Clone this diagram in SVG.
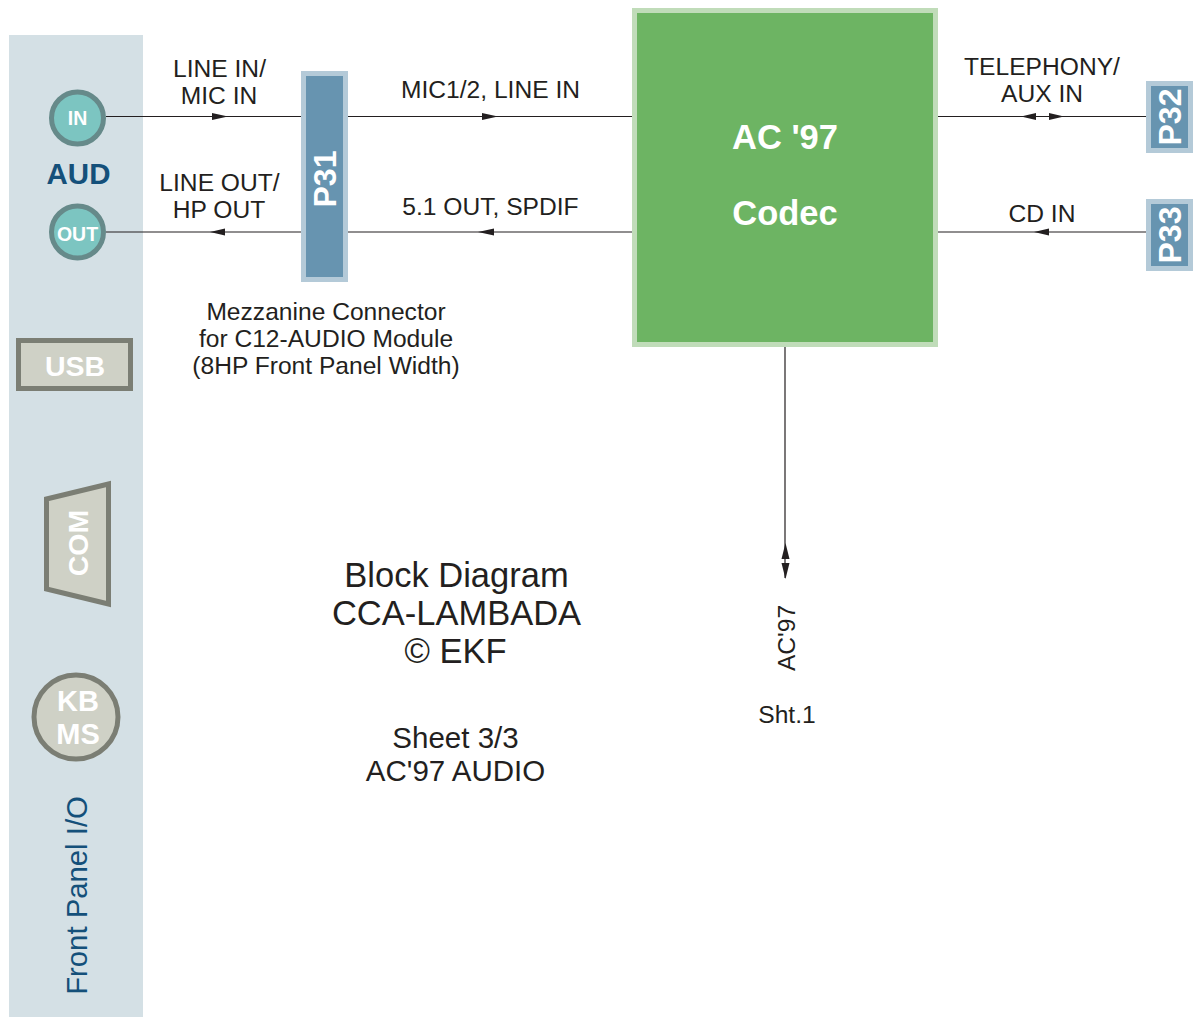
<svg xmlns="http://www.w3.org/2000/svg" width="1197" height="1022" viewBox="0 0 1197 1022">
<style>
text{font-family:"Liberation Sans",Arial,sans-serif;text-anchor:middle}
.l{font-size:24.600px;fill:#231f20}
.t{font-size:34.500px;fill:#231f20}
.s{font-size:29.500px;fill:#231f20}
.w{font-weight:bold;fill:#fff}
.p{fill:#6794b0;stroke:#b4cad8;stroke-width:5}
.j{fill:#7cc5c1;stroke:#668a8a;stroke-width:5}
.g{fill:#cfd1c6;stroke:#7b7e74;stroke-width:5}
.c{stroke:#231f20;stroke-width:1.200;fill:none}
.a{fill:#231f20}
</style>
<rect x="9" y="35" width="134" height="982" fill="#d4e0e5"/>
<g id="connectors">
<path class="c" d="M106 116.500H303M346 116.500H634M937 116.500H1147M106 232H303M346 232H634M937 232H1147M785 345V578"/>
<path class="a" d="M228 116.500l-16-3.500v7zM498 116.500l-16-3.500v7zM1021 116.500l15-3.500v7zM1064 116.500l-15-3.500v7zM210 232l15-3.500v7zM478 232l16-3.500v7zM1034 232l15-3.500v7zM785.500 543l-4 16h8zM785.500 579l-4-16h8z"/>
</g>
<g id="in"><circle class="j" cx="77.500" cy="118" r="26"/><text class="w" x="77.500" y="125" font-size="19.500">IN</text></g>
<g id="out"><circle class="j" cx="77.500" cy="232" r="26"/><text class="w" x="77.500" y="241" font-size="19.500">OUT</text></g>
<text x="78.500" y="184" font-size="29.500" font-weight="bold" fill="#14507a">AUD</text>
<g id="usb"><rect class="g" x="18.500" y="340.500" width="112" height="48"/><text class="w" x="75" y="376" font-size="28.500">USB</text></g>
<g id="com"><path class="g" d="M46.500 499L108.500 484V604L46.500 589Z"/><text class="w" transform="translate(88 543) rotate(-90)" font-size="28.500">COM</text></g>
<g id="kbms"><circle class="g" cx="76" cy="717" r="42"/><text class="w" x="78" y="711" font-size="29">KB</text><text class="w" x="78" y="744" font-size="29">MS</text></g>
<text transform="translate(87 895.500) rotate(-90)" font-size="29.300" fill="#14507a">Front Panel I/O</text>
<g id="p31"><rect class="p" x="303.500" y="73.500" width="42" height="206"/><text class="w" transform="translate(335.500 179) rotate(-90)" font-size="32">P31</text></g>
<g id="codec"><rect x="634.500" y="10.500" width="301" height="334" fill="#6db463" stroke="#c0dcb9" stroke-width="5"/><text class="w" x="785" y="149" font-size="34.500">AC '97</text><text class="w" x="785" y="225" font-size="34.500">Codec</text></g>
<g id="p32"><rect class="p" x="1148.500" y="83.500" width="42" height="67"/><text class="w" transform="translate(1180.500 117) rotate(-90)" font-size="32">P32</text></g>
<g id="p33"><rect class="p" x="1148.500" y="201.500" width="42" height="67"/><text class="w" transform="translate(1180.500 235) rotate(-90)" font-size="32">P33</text></g>
<text class="l" x="219.500" y="76.500">LINE IN/</text><text class="l" x="219" y="104">MIC IN</text>
<text class="l" x="219.500" y="191">LINE OUT/</text><text class="l" x="219" y="218">HP OUT</text>
<text class="l" x="490.500" y="98">MIC1/2, LINE IN</text><text class="l" x="490.500" y="215">5.1 OUT, SPDIF</text>
<text class="l" x="1042" y="75">TELEPHONY/</text><text class="l" x="1042" y="102">AUX IN</text><text class="l" x="1042" y="222">CD IN</text>
<text class="l" x="326" y="319.500">Mezzanine Connector</text><text class="l" x="326" y="347">for C12-AUDIO Module</text><text class="l" x="326" y="374">(8HP Front Panel Width)</text>
<text class="t" x="456.500" y="587">Block Diagram</text><text class="t" x="456.500" y="625">CCA-LAMBADA</text><text class="t" x="455.500" y="663">© EKF</text>
<text class="s" x="455.500" y="748">Sheet 3/3</text><text class="s" x="455.500" y="781">AC'97 AUDIO</text>
<text class="l" transform="translate(794.500 638) rotate(-90)">AC'97</text><text class="l" x="787" y="723">Sht.1</text>
</svg>
